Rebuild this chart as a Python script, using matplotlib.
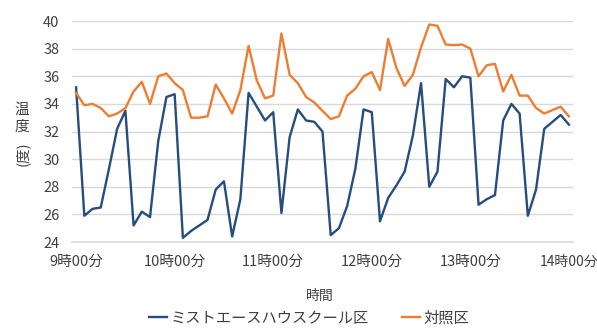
import numpy as np
import matplotlib
matplotlib.use("Agg")
import matplotlib.pyplot as plt

plt.rcParams['font.family'] = ['Noto Sans CJK JP', 'DejaVu Sans']

# 5-minute readings from 9:00 to 14:00
minutes = np.arange(0, 301, 5)

mist_house = [
    35.2, 25.9, 26.4, 26.5, 29.3, 32.2, 33.5, 25.2, 26.2, 25.8,
    31.3, 34.5, 34.7, 24.3, 24.8, 25.2, 25.6, 27.8, 28.4, 24.4,
    27.1, 34.8, 33.8, 32.8, 33.4, 26.1, 31.6, 33.6, 32.8, 32.7,
    32.0, 24.5, 25.0, 26.6, 29.3, 33.6, 33.4, 25.5, 27.2, 28.1,
    29.1, 31.7, 35.5, 28.0, 29.1, 35.8, 35.2, 36.0, 35.9, 26.7,
    27.1, 27.4, 32.8, 34.0, 33.3, 25.9, 27.8, 32.2, 32.7, 33.2,
    32.5,
]

control = [
    34.8, 33.9, 34.0, 33.7, 33.1, 33.3, 33.7, 34.9, 35.6, 34.0,
    36.0, 36.2, 35.5, 35.0, 33.0, 33.0, 33.1, 35.4, 34.4, 33.3,
    35.0, 38.2, 35.7, 34.4, 34.6, 39.1, 36.1, 35.5, 34.5, 34.1,
    33.5, 32.9, 33.1, 34.6, 35.1, 36.0, 36.3, 35.0, 38.7, 36.6,
    35.3, 36.1, 38.1, 39.75, 39.65, 38.3, 38.25, 38.3, 38.0, 36.0,
    36.8, 36.9, 34.9, 36.1, 34.6, 34.6, 33.7, 33.3, 33.55, 33.8,
    33.1,
]

tick_hours = [9, 10, 11, 12, 13, 14]
tick_labels = [f"{h}時00分" for h in tick_hours]
y_ticks = [24, 26, 28, 30, 32, 34, 36, 38, 40]

series_names = ["ミストエースハウスクール区", "対照区"]

text_color = "#404040"
grid_color = "#d9d9d9"

fig = plt.figure(figsize=(5.97, 3.29), dpi=100)
ax = fig.add_axes([0.1206, 0.2644, 0.8392, 0.6717])

ax.plot(minutes, mist_house, color="#264d7d", lw=1.7, label=series_names[0],
        solid_joinstyle="round", zorder=3)
ax.plot(minutes, control, color="#ed7d31", lw=1.7, label=series_names[1],
        solid_joinstyle="round", zorder=3)

ax.set_xlim(-2.5, 302.5)
ax.set_ylim(24, 40)
ax.set_yticks(y_ticks)
ax.set_xticks([(h - 9) * 60 for h in tick_hours])
ax.set_xticklabels(tick_labels)

ax.grid(axis="y", color=grid_color, lw=1.0, zorder=0)
ax.grid(axis="x", visible=False)
for side in ("top", "right", "left"):
    ax.spines[side].set_visible(False)
ax.spines["bottom"].set_color(grid_color)
ax.spines["bottom"].set_linewidth(1.2)

ax.tick_params(axis="both", length=0, labelsize=10.5, colors=text_color)
ax.tick_params(axis="x", pad=9)
ax.tick_params(axis="y", pad=9)
ax.get_xticklabels()[-1].set_fontsize(10)

# vertical axis title: upright kanji stacked, then the rotated bracket part
for ch, ypx in (("温", 110), ("度", 127)):
    fig.text(22 / 597, 1 - ypx / 329, ch, ha="center", va="center",
             fontsize=10.5, color=text_color)
fig.text(22 / 597, 1 - 154 / 329, "(度)", ha="center", va="center",
         rotation=90, fontsize=10.5, color=text_color)

fig.text(320 / 597, 1 - 296 / 329, "時間", ha="center", va="center",
         fontsize=10, color=text_color)

fig.legend(loc="center", bbox_to_anchor=(309 / 597, 1 - 318 / 329), ncol=2,
           frameon=False, fontsize=11, handlelength=1.2, handletextpad=0.2,
           columnspacing=2.2, labelcolor=text_color)

fig.savefig("out.png", dpi=100)
